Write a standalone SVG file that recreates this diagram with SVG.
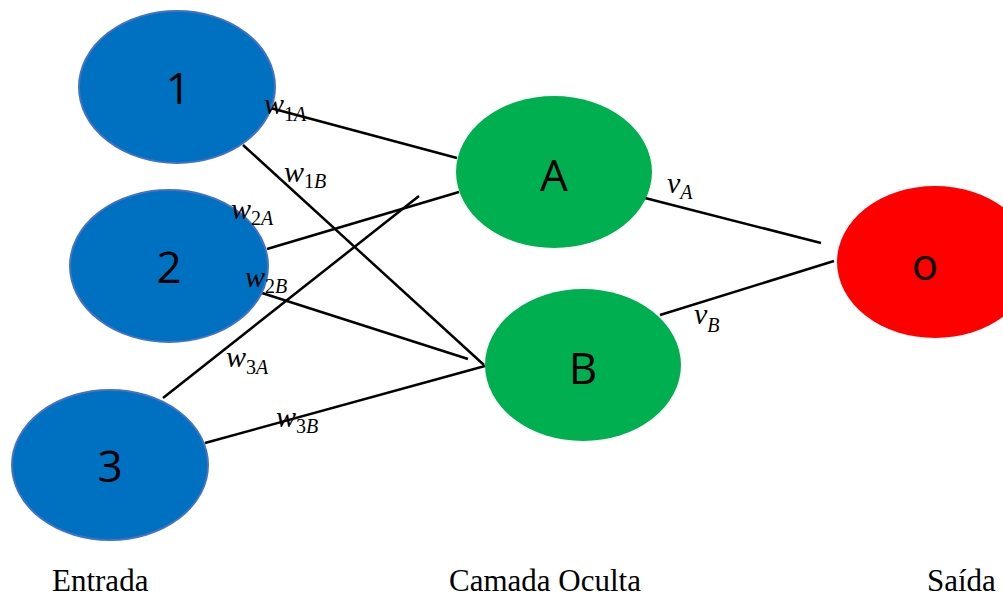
<svg xmlns="http://www.w3.org/2000/svg" width="1003" height="598" viewBox="0 0 1003 598">
  <style>
    .in { fill: #0070C0; stroke: #4472C4; stroke-width: 2; }
    .hid { fill: #00B050; }
    .out { fill: #FF0000; }
    .num { font-family: "Open Sans", "Liberation Sans", sans-serif; font-size: 44px; fill: #000; text-anchor: middle; }
    .edge { stroke: #000; stroke-width: 2.5; fill: none; }
    .w { font-family: "Liberation Serif", serif; font-style: italic; font-size: 30px; fill: #000; }
    .sub { font-size: 20px; }
    .up { font-style: normal; }
    .cap { font-family: "Liberation Serif", serif; font-size: 31px; fill: #000; }
  </style>

  <rect width="1003" height="598" fill="#fff"/>

  <!-- weighted connections -->
  <g id="connectors">
    <line class="edge" x1="263" y1="106" x2="457" y2="158"/>
    <line class="edge" x1="243" y1="145" x2="484" y2="365"/>
    <line class="edge" x1="267" y1="249" x2="459" y2="192"/>
    <line class="edge" x1="262" y1="293" x2="468" y2="359"/>
    <line class="edge" x1="163" y1="398" x2="419" y2="196"/>
    <line class="edge" x1="205" y1="443" x2="485" y2="366"/>
    <line class="edge" x1="645" y1="198" x2="821" y2="243"/>
    <line class="edge" x1="660" y1="315" x2="834" y2="261"/>
  </g>

  <!-- input layer -->
  <g id="node-1">
    <ellipse class="in" cx="177" cy="87" rx="98" ry="76"/>
    <text class="num" x="178" y="104">1</text>
  </g>
  <g id="node-2">
    <ellipse class="in" cx="169" cy="266" rx="99" ry="76"/>
    <text class="num" x="169" y="283">2</text>
  </g>
  <g id="node-3">
    <ellipse class="in" cx="110" cy="465" rx="98" ry="75"/>
    <text class="num" x="110" y="482">3</text>
  </g>

  <!-- hidden layer -->
  <g id="node-A">
    <ellipse class="hid" cx="554" cy="172" rx="98" ry="76"/>
    <text class="num" x="554" y="191">A</text>
  </g>
  <g id="node-B">
    <ellipse class="hid" cx="583" cy="365" rx="98" ry="76"/>
    <text class="num" x="583" y="384">B</text>
  </g>

  <!-- output layer -->
  <g id="node-o">
    <ellipse class="out" cx="935" cy="262" rx="98" ry="76"/>
    <text class="num" x="925" y="280">o</text>
  </g>

  <!-- weight labels -->
  <g id="weights">
    <text class="w" x="264" y="114">w<tspan class="sub up" dy="7">1</tspan><tspan class="sub">A</tspan></text>
    <text class="w" x="284" y="182">w<tspan class="sub up" dy="6">1</tspan><tspan class="sub">B</tspan></text>
    <text class="w" x="231" y="219">w<tspan class="sub up" dy="6">2</tspan><tspan class="sub">A</tspan></text>
    <text class="w" x="245" y="287">w<tspan class="sub up" dy="6">2</tspan><tspan class="sub">B</tspan></text>
    <text class="w" x="226" y="367">w<tspan class="sub up" dy="7">3</tspan><tspan class="sub">A</tspan></text>
    <text class="w" x="276" y="427">w<tspan class="sub up" dy="6">3</tspan><tspan class="sub">B</tspan></text>
    <text class="w" x="667" y="193">v<tspan class="sub" dy="6">A</tspan></text>
    <text class="w" x="694" y="324">v<tspan class="sub" dy="8">B</tspan></text>
  </g>

  <!-- layer captions -->
  <g id="captions">
    <text class="cap" x="52" y="591">Entrada</text>
    <text class="cap" x="449" y="591">Camada Oculta</text>
    <text class="cap" x="927" y="591">Saída</text>
  </g>
</svg>
